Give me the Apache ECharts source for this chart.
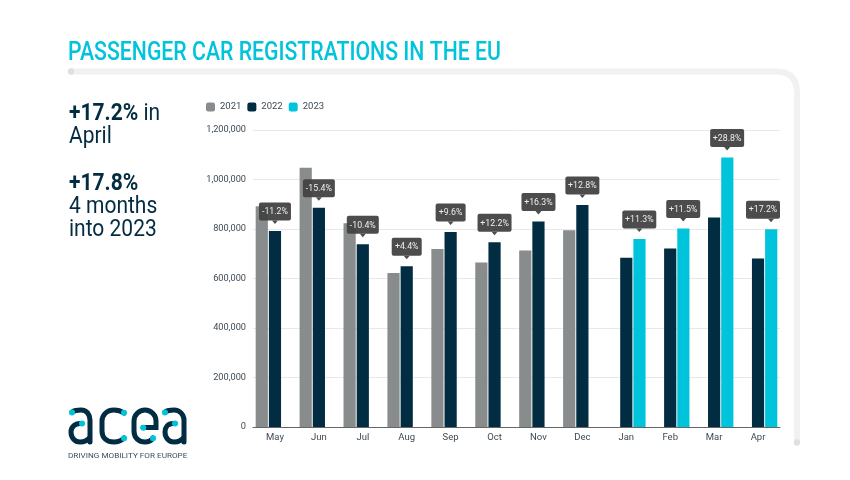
<!DOCTYPE html>
<html>
<head>
<meta charset="utf-8">
<script src="https://cdn.jsdelivr.net/npm/echarts@6/dist/echarts.min.js"></script>
<style>
  html, body { margin: 0; background: #fff; }
  #chart { width: 850px; height: 480px; }
</style>
</head>
<body>
<div id="chart"></div>
<script>
const months = ['May', 'Jun', 'Jul', 'Aug', 'Sep', 'Oct', 'Nov', 'Dec', 'Jan', 'Feb', 'Mar', 'Apr']
const y2021 = [892000, 1047000, 823000, 622000, 719000, 665000, 713000, 795000, null, null, null, null]
const y2022 = [792000, 886000, 738000, 650000, 788000, 746000, 830000, 897000, 684000, 721000, 846000, 681000]
const y2023 = [null, null, null, null, null, null, null, null, 760000, 802000, 1089000, 799000]
const changes = ['-11.2%', '-15.4%', '-10.4%', '+4.4%', '+9.6%', '+12.2%', '+16.3%', '+12.8%', '+11.3%', '+11.5%', '+28.8%', '+17.2%']

const NAVY = '#022c41'
const CYAN = '#00c3dc'
const GREY = '#888c8c'
const FRAME = '#f1f1f1'
const LABEL = '#3c4a56'
const PLOT_RIGHT = 780

const font = 'Roboto, sans-serif'

function condensed(text, x, y, size, weight, color, scale) {
  return {
    type: 'text', x, y, scaleX: scale, silent: true,
    style: { text, fontFamily: font, fontSize: size, fontWeight: weight, fill: color, verticalAlign: 'middle' }
  }
}

function statLine(bold, rest, x, y) {
  return {
    type: 'text', x, y, scaleX: 0.875, silent: true,
    style: {
      text: (bold ? '{b|' + bold + '}' : '') + (rest ? '{n|' + rest + '}' : ''),
      verticalAlign: 'middle',
      rich: {
        b: { fontFamily: font, fontSize: 24, fontWeight: 700, fill: NAVY },
        n: { fontFamily: font, fontSize: 24, fontWeight: 400, fill: NAVY }
      }
    }
  }
}

// the graphic component has no plain path type, so each outline gets a registered shape
let shapeCount = 0
function outline(pathData, color, lineWidth) {
  const name = 'outline' + shapeCount++
  echarts.graphic.registerShape(name, echarts.graphic.extendPath(pathData, {}))
  return {
    type: name, silent: true,
    style: { fill: null, stroke: color, lineWidth, lineCap: 'round' }
  }
}

function dot(cx, cy, r, color) {
  return { type: 'circle', silent: true, shape: { cx, cy, r }, style: { fill: color } }
}

const graphics = [
  condensed('PASSENGER CAR REGISTRATIONS IN THE EU', 68, 53.5, 25, 500, CYAN, 0.85),
  outline('M71 71.5 L776 71.5 Q797 71.5 797 93 L797 442', FRAME, 6),
  dot(71, 71.5, 3.2, '#e0e0e0'),
  dot(797, 442.5, 3.2, '#e0e0e0'),
  statLine('+17.2%', ' in', 69, 113.5),
  statLine('', 'April', 69, 137),
  statLine('+17.8%', '', 69, 184),
  statLine('', '4 months', 69, 207),
  statLine('', 'into 2023', 69, 230),
  // acea logo
  outline('M72 412 C75 410 78 410 81 410 C87 410 90 415 90 420 L90 442 M82 423.5 L80 423.5 C75 423.5 71 427 71 432 C71 438 75 442 80 442 C84 442 88 440 90 437', NAVY, 5),
  outline('M124 413 C121 411 118 410 114 410 C106 410 102 416 102 421 L102 431 C102 438 107 442 114 442 C118 442 121 441 124 438', NAVY, 5),
  outline('M143 427.5 L156 427.5 L156 421 C156 415 151 410 145 410 C139 410 134 415 134 421 L134 431 C134 438 139 442 145 442 C148 442 151 441 153 438', NAVY, 5),
  outline('M165 412 C168 410 171 410 174 410 C180 410 184 415 184 420 L184 442 M175 423.5 L173 423.5 C168 423.5 165 427 165 432 C165 438 169 442 174 442 C178 442 182 440 184 437', NAVY, 5),
  dot(72, 412.5, 3, CYAN),
  dot(82, 423.5, 3, CYAN),
  dot(124, 412.7, 3, CYAN),
  dot(124, 438.3, 3, CYAN),
  dot(143.3, 427.7, 3, CYAN),
  dot(153, 438.3, 3, CYAN),
  dot(165, 412.5, 3, CYAN),
  dot(175, 423.5, 3, CYAN),
  {
    type: 'text', x: 68, y: 456, scaleX: 1.02, silent: true,
    style: { text: 'DRIVING MOBILITY FOR EUROPE', fontFamily: font, fontSize: 8, fontWeight: 400, fill: '#3c4f5c', verticalAlign: 'middle' }
  }
]

const calloutData = months.map((m, i) => [i, y2023[i] != null ? y2023[i] : y2022[i]])

function renderCallout(params, api) {
  const i = api.value(0)
  const pos = api.coord([i, api.value(1)])
  // bars of 2023 sit one slot right of the category centre
  const barX = pos[0] + (y2023[i] != null ? 13 : 0)
  const label = changes[i]
  const w = label.length > 5 ? (label.startsWith('-') ? 32 : 34) : 30
  const h = 18
  const tipY = pos[1] - 7
  const boxBottom = tipY - 3.5
  const boxX = Math.min(barX - w / 2, PLOT_RIGHT - w)
  return {
    type: 'group',
    children: [
      { type: 'rect', shape: { x: boxX, y: boxBottom - h, width: w, height: h, r: 2 }, style: { fill: 'rgba(66,66,66,0.95)' } },
      { type: 'polygon', shape: { points: [[barX - 3, boxBottom], [barX + 3, boxBottom], [barX, tipY]] }, style: { fill: 'rgba(66,66,66,0.95)' } },
      {
        type: 'text',
        x: boxX + w / 2, y: boxBottom - h / 2 + 0.5,
        style: { text: label, fontFamily: font, fontSize: 8.8, fill: '#eeeeee', align: 'center', verticalAlign: 'middle' }
      }
    ]
  }
}

const barCommon = { type: 'bar', barWidth: 12.2, barGap: '8%' }

const option = {
  backgroundColor: '#fff',
  animation: false,
  color: [GREY, NAVY, CYAN],
  legend: {
    left: 201, top: 97,
    icon: 'roundRect',
    itemWidth: 9, itemHeight: 9, itemGap: 6,
    textStyle: { fontFamily: font, fontSize: 9.5, color: LABEL },
    data: ['2021', '2022', '2023']
  },
  grid: { left: 253, right: 850 - PLOT_RIGHT, top: 130, bottom: 53 },
  xAxis: {
    type: 'category',
    data: months,
    axisTick: { show: false },
    axisLine: { lineStyle: { color: '#666', width: 1 } },
    axisLabel: { fontFamily: font, fontSize: 9.5, color: LABEL, margin: 6 }
  },
  yAxis: {
    type: 'value',
    min: 0, max: 1200000, interval: 200000,
    axisLine: { show: false },
    axisTick: { show: false },
    splitLine: { lineStyle: { color: '#e8e8e8', width: 1 } },
    axisLabel: {
      fontFamily: font, fontSize: 9.2, color: LABEL, margin: 7,
      formatter: v => v.toLocaleString('en-US')
    }
  },
  series: [
    { ...barCommon, name: '2021', data: y2021 },
    { ...barCommon, name: '2022', data: y2022 },
    { ...barCommon, name: '2023', data: y2023 },
    {
      type: 'custom', name: 'change', z: 5, silent: true, clip: false,
      encode: { x: 0, y: 1 },
      renderItem: renderCallout,
      data: calloutData
    }
  ],
  graphic: graphics
}

const chart = echarts.init(document.getElementById('chart'))
chart.setOption(option)
</script>
</body>
</html>
